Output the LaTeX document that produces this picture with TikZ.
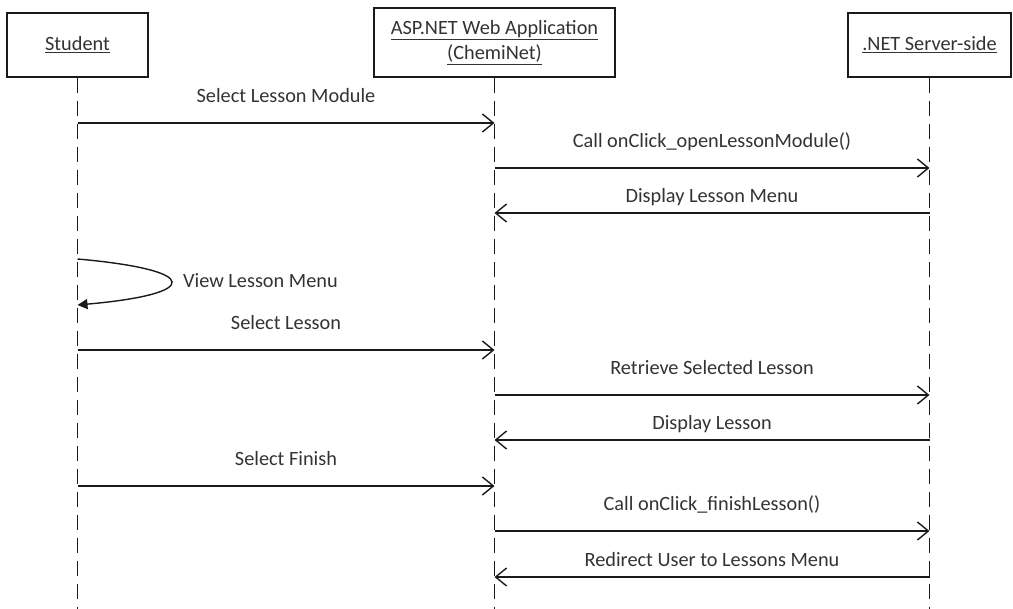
\documentclass[tikz,border=0pt]{standalone}
\usepackage{fontspec}
\setmainfont{Carlito}
\usetikzlibrary{arrows.meta}
\definecolor{ink}{HTML}{1A1A1A}
\definecolor{txt}{HTML}{333333}
\tikzset{
  actor/.style={draw=ink, line width=1.4pt, fill=white, rectangle, inner sep=0pt,
    align=center, text=txt, font=\fontsize{20.3}{25}\selectfont},
  life/.style={draw=ink, line width=1.5pt, dash pattern=on 15pt off 8pt},
  msg/.style={draw=ink, line width=1.4pt, -{Straight Barb[length=11pt,width=18pt,line width=1.4pt]}},
  selfmsg/.style={draw=ink, line width=1.4pt, -{Triangle[length=10pt,width=10pt]}},
  lbl/.style={text=txt, font=\fontsize{20.3}{25}\selectfont, inner sep=0pt, anchor=base},
}
\begin{document}
\begin{tikzpicture}[x=1pt,y=-1pt]
\useasboundingbox (0,0) rectangle (1013,609);

% participants
\node[actor, minimum width=141pt, minimum height=64pt] (stu) at (77.5,45) {\underline{Student}};
\node[actor, minimum width=241pt, minimum height=69pt] (asp) at (494.5,42.5)
  {\underline{ASP.NET Web Application}\\\underline{(ChemiNet)}};
\node[actor, minimum width=163pt, minimum height=64pt] (srv) at (929.5,45) {\underline{.NET Server-side}};

% lifelines
\draw[life] (stu.south) -- (stu.south |- 0,609);
\draw[life] (asp.south) -- (asp.south |- 0,609);
\draw[life] (srv.south) -- (srv.south |- 0,609);

% messages
\draw[msg] (stu.south |- 0,123) -- node[lbl, midway, yshift=20.5pt] {Select Lesson Module} (asp.south |- 0,123);
\draw[msg] (asp.south |- 0,168) -- node[lbl, midway, yshift=20.5pt] {Call onClick\_openLessonModule()} (srv.south |- 0,168);
\draw[msg] (srv.south |- 0,213) -- node[lbl, midway, yshift=10.5pt] {Display Lesson Menu} (asp.south |- 0,213);

% self call on the student lifeline
\draw[selfmsg] (stu.south |- 0,259) .. controls (202,270) and (202,294) .. (stu.south |- 0,305);
\node[lbl, anchor=base west] (view) at (183,288) {View Lesson Menu};

\draw[msg] (stu.south |- 0,350) -- node[lbl, midway, yshift=20.5pt] {Select Lesson} (asp.south |- 0,350);
\draw[msg] (asp.south |- 0,395) -- node[lbl, midway, yshift=20.5pt] {Retrieve Selected Lesson} (srv.south |- 0,395);
\draw[msg] (srv.south |- 0,440) -- node[lbl, midway, yshift=10.5pt] {Display Lesson} (asp.south |- 0,440);
\draw[msg] (stu.south |- 0,486) -- node[lbl, midway, yshift=20.5pt] {Select Finish} (asp.south |- 0,486);
\draw[msg] (asp.south |- 0,531) -- node[lbl, midway, yshift=20.5pt] {Call onClick\_finishLesson()} (srv.south |- 0,531);
\draw[msg] (srv.south |- 0,577) -- node[lbl, midway, yshift=10.5pt] {Redirect User to Lessons Menu} (asp.south |- 0,577);
\end{tikzpicture}
\end{document}
